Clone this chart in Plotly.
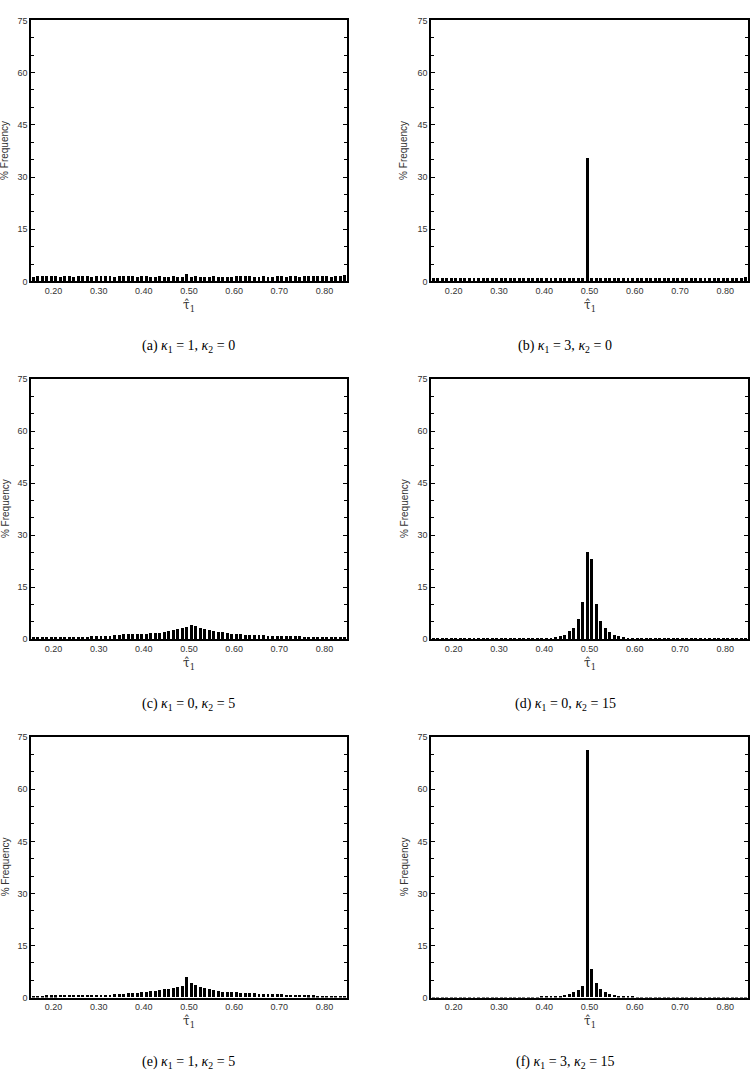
import plotly.graph_objects as go

# bin centres of tau_hat_1 (bin width 0.01)
tau_bins = [0.155, 0.165, 0.175, 0.185, 0.195, 0.205, 0.215, 0.225, 0.235, 0.245,
            0.255, 0.265, 0.275, 0.285, 0.295, 0.305, 0.315, 0.325, 0.335, 0.345,
            0.355, 0.365, 0.375, 0.385, 0.395, 0.405, 0.415, 0.425, 0.435, 0.445,
            0.455, 0.465, 0.475, 0.485, 0.495, 0.505, 0.515, 0.525, 0.535, 0.545,
            0.555, 0.565, 0.575, 0.585, 0.595, 0.605, 0.615, 0.625, 0.635, 0.645,
            0.655, 0.665, 0.675, 0.685, 0.695, 0.705, 0.715, 0.725, 0.735, 0.745,
            0.755, 0.765, 0.775, 0.785, 0.795, 0.805, 0.815, 0.825, 0.835, 0.845]

freq_a = [1.3, 1.5, 1.4, 1.6, 1.4, 1.4, 1.3, 1.4, 1.4, 1.3,
          1.5, 1.5, 1.5, 1.2, 1.4, 1.4, 1.4, 1.5, 1.3, 1.4,
          1.4, 1.6, 1.4, 1.3, 1.4, 1.4, 1.2, 1.3, 1.4, 1.3,
          1.3, 1.4, 1.3, 1.3, 2.1, 1.3, 1.5, 1.3, 1.3, 1.3,
          1.4, 1.3, 1.3, 1.2, 1.3, 1.5, 1.4, 1.5, 1.4, 1.3,
          1.3, 1.5, 1.3, 1.3, 1.4, 1.5, 1.3, 1.5, 1.4, 1.2,
          1.4, 1.4, 1.5, 1.5, 1.6, 1.4, 1.3, 1.5, 1.6, 1.7]

freq_b = [0.9, 0.9, 0.9, 0.9, 0.9, 0.9, 0.9, 0.9, 0.9, 0.9,
          1.0, 0.9, 0.9, 0.9, 0.9, 0.9, 0.9, 0.9, 1.0, 0.9,
          0.9, 0.9, 0.9, 0.9, 0.9, 0.8, 0.9, 0.9, 1.0, 0.9,
          0.9, 0.9, 0.9, 0.9, 35.5, 0.9, 0.9, 0.9, 0.9, 0.9,
          0.9, 0.9, 0.9, 0.9, 0.9, 1.0, 1.0, 0.9, 0.9, 0.9,
          1.0, 0.9, 0.9, 0.9, 1.0, 0.9, 1.0, 1.0, 0.9, 0.9,
          0.9, 0.9, 1.0, 1.0, 1.0, 0.9, 1.0, 1.0, 1.0, 1.2]

freq_c = [0.5, 0.5, 0.5, 0.5, 0.5, 0.55, 0.55, 0.6, 0.6, 0.6,
          0.65, 0.65, 0.7, 0.75, 0.8, 0.9, 0.95, 1.0, 1.05, 1.1,
          1.4, 1.4, 1.45, 1.5, 1.55, 1.6, 1.7, 1.8, 1.9, 2.1,
          2.3, 2.6, 2.9, 3.2, 3.6, 4.1, 3.7, 3.3, 2.9, 2.6,
          2.3, 2.1, 2.0, 1.8, 1.6, 1.5, 1.4, 1.3, 1.3, 1.2,
          1.1, 1.1, 1.0, 0.95, 0.9, 0.9, 0.85, 0.8, 0.8, 0.75,
          0.7, 0.65, 0.6, 0.6, 0.6, 0.55, 0.55, 0.5, 0.5, 0.5]

freq_d = [0.05, 0.05, 0.05, 0.05, 0.05, 0.05, 0.05, 0.05, 0.05, 0.05,
          0.05, 0.05, 0.05, 0.05, 0.05, 0.05, 0.05, 0.05, 0.05, 0.05,
          0.05, 0.05, 0.05, 0.1, 0.15, 0.3, 0.4, 0.7, 0.95, 1.2,
          2.4, 3.3, 5.9, 10.8, 25.2, 23.2, 10.0, 5.2, 3.1, 2.1,
          1.3, 0.9, 0.7, 0.4, 0.2, 0.1, 0.05, 0.05, 0.05, 0.05,
          0.05, 0.05, 0.05, 0.05, 0.05, 0.05, 0.05, 0.05, 0.05, 0.05,
          0.05, 0.05, 0.05, 0.05, 0.05, 0.05, 0.05, 0.05, 0.05, 0.05]

freq_e = [0.5, 0.5, 0.5, 0.55, 0.55, 0.55, 0.6, 0.6, 0.6, 0.65,
          0.7, 0.7, 0.75, 0.7, 0.75, 0.8, 0.8, 0.8, 0.85, 0.85,
          0.85, 1.2, 1.3, 1.3, 1.4, 1.6, 1.7, 1.9, 2.1, 2.3,
          2.5, 2.7, 3.0, 3.3, 5.9, 4.0, 3.5, 3.0, 2.6, 2.3,
          2.1, 1.8, 1.5, 1.5, 1.5, 1.4, 1.3, 1.2, 1.1, 1.1,
          1.0, 0.95, 0.9, 0.9, 0.85, 0.85, 0.8, 0.8, 0.8, 0.7,
          0.6, 0.55, 0.55, 0.5, 0.5, 0.5, 0.5, 0.5, 0.5, 0.5]

freq_f = [0.05, 0.05, 0.05, 0.05, 0.05, 0.05, 0.05, 0.05, 0.05, 0.05,
          0.05, 0.05, 0.05, 0.05, 0.05, 0.05, 0.05, 0.05, 0.05, 0.05,
          0.05, 0.05, 0.05, 0.05, 0.1, 0.15, 0.2, 0.3, 0.5, 0.7,
          1.0, 1.5, 2.2, 3.3, 71.3, 8.1, 4.2, 2.4, 1.5, 1.0,
          0.6, 0.4, 0.25, 0.15, 0.1, 0.05, 0.05, 0.05, 0.05, 0.05,
          0.05, 0.05, 0.05, 0.05, 0.05, 0.05, 0.05, 0.05, 0.05, 0.05,
          0.05, 0.05, 0.05, 0.05, 0.05, 0.05, 0.05, 0.05, 0.05, 0.05]

panels = [freq_a, freq_b, freq_c, freq_d, freq_e, freq_f]
captions = [
    "(a) <i>κ</i><sub>1</sub> = 1, <i>κ</i><sub>2</sub> = 0",
    "(b) <i>κ</i><sub>1</sub> = 3, <i>κ</i><sub>2</sub> = 0",
    "(c) <i>κ</i><sub>1</sub> = 0, <i>κ</i><sub>2</sub> = 5",
    "(d) <i>κ</i><sub>1</sub> = 0, <i>κ</i><sub>2</sub> = 15",
    "(e) <i>κ</i><sub>1</sub> = 1, <i>κ</i><sub>2</sub> = 5",
    "(f) <i>κ</i><sub>1</sub> = 3, <i>κ</i><sub>2</sub> = 15",
]
y_ticks = [0, 15, 30, 45, 60, 75]
x_ticks = [0.2, 0.3, 0.4, 0.5, 0.6, 0.7, 0.8]

W, H = 754, 1091
# pixel layout of the plot boxes
col_px = [(31, 347), (431, 748)]
row_px = [(15.5, 279), (377.5, 640), (739, 1001.7)]
cap_x_px = [188, 565]
cap_y_off = 66   # caption below box bottom
ylab_x_px = [5, 404]

fig = go.Figure()
tick_font = dict(family="Liberation Sans, Arial, sans-serif", size=9, color="#333")
annotations = []

for k, vals in enumerate(panels):
    r, c = divmod(k, 2)
    idx = "" if k == 0 else str(k + 1)
    xa, ya = "x" + idx, "y" + idx
    fig.add_trace(go.Bar(x=tau_bins, y=vals, width=0.0065,
                         marker=dict(color="black", line=dict(width=0)),
                         xaxis=xa, yaxis=ya, showlegend=False))
    x0, x1 = col_px[c]
    yt, yb = row_px[r]
    fig.layout["xaxis" + idx] = dict(
        domain=[x0 / W, x1 / W], anchor=ya, range=[0.15, 0.85],
        tickvals=x_ticks, tickformat=".2f", ticks="", showgrid=False,
        zeroline=False, showline=True, linecolor="black", linewidth=1.5,
        mirror=True, tickfont=tick_font, ticklabelstandoff=0)
    fig.layout["yaxis" + idx] = dict(
        domain=[1 - yb / H, 1 - yt / H], anchor=xa, range=[0, 75],
        tickvals=y_ticks, ticks="inside", ticklen=4, tickcolor="black",
        minor=dict(dtick=5, ticks="inside", ticklen=3, tickcolor="black"),
        showgrid=False, zeroline=False, showline=True, linecolor="black",
        linewidth=1.5, mirror="ticks", tickfont=tick_font)
    # x-axis title
    annotations.append(dict(
        text="τ\u0302<sub>1</sub>", xref="paper", yref="paper",
        x=(x0 + x1) / 2 / W, y=1 - (yb + 25) / H, showarrow=False,
        font=dict(family="DejaVu Serif, serif", size=12, color="#333"),
        xanchor="center", yanchor="middle"))
    # y-axis title
    annotations.append(dict(
        text="% Frequency", xref="paper", yref="paper",
        x=ylab_x_px[c] / W, y=1 - (yt + yb) / 2 / H, showarrow=False,
        textangle=-90, font=dict(family="Liberation Sans, Arial, sans-serif",
                                 size=10, color="#333"),
        xanchor="center", yanchor="middle"))
    # caption
    annotations.append(dict(
        text=captions[k], xref="paper", yref="paper",
        x=cap_x_px[c] / W, y=1 - (yb + cap_y_off) / H, showarrow=False,
        font=dict(family="Liberation Serif, serif", size=14, color="black"),
        xanchor="center", yanchor="middle"))

fig.update_layout(width=W, height=H, margin=dict(l=0, r=0, t=0, b=0),
                  plot_bgcolor="white", paper_bgcolor="white",
                  bargap=0, annotations=annotations)

fig.write_html("out.html")
